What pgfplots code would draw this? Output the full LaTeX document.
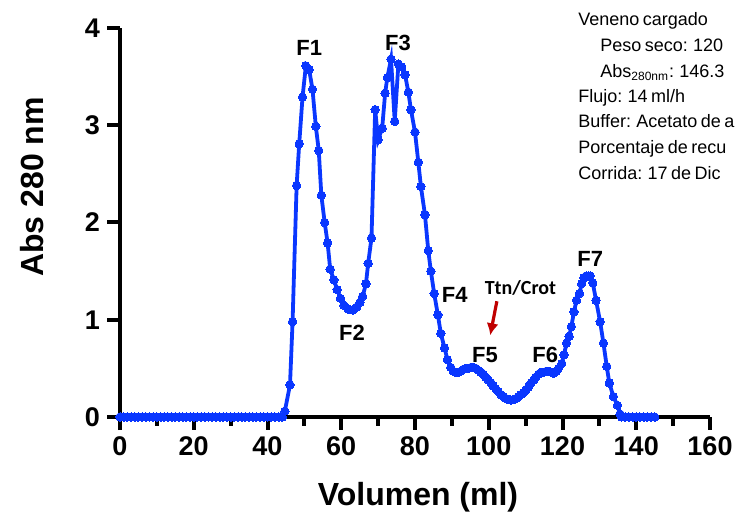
\documentclass[border=0pt]{standalone}
\usepackage{pgfplots}
\pgfplotsset{compat=1.18}
\usetikzlibrary{arrows.meta}
\usepackage{fontspec}
\setmainfont{Liberation Sans}
\newfontfamily\calib{Carlito}
\newfontfamily\notefont[WordSpace=0.7]{Liberation Sans}
\definecolor{trace}{RGB}{10,55,255}
\definecolor{arrowred}{RGB}{192,0,0}

\pgfplotstableread{
vol abs
0 0
1 0
2 0
3 0
4 0
5 0
6 0
7 0
8 0
9 0
10 0
11 0
12 0
13 0
14 0
15 0
16 0
17 0
18 0
19 0
20 0
21 0
22 0
23 0
24 0
25 0
26 0
27 0
28 0
29 0
30 0
31 0
32 0
33 0
34 0
35 0
36 0
37 0
38 0
39 0
40 0
41 0
42 0
43 0
44 0
44.7 0.06
46.1 0.33
46.8 0.98
47.9 2.38
48.6 2.81
49.5 3.29
50.4 3.61
51.3 3.57
52.2 3.37
53.1 2.99
53.9 2.74
54.6 2.28
55.5 2.00
56.3 1.79
57.0 1.52
58.0 1.41
58.9 1.31
59.8 1.22
60.7 1.15
61.9 1.11
63.1 1.10
64.2 1.13
65.1 1.18
65.8 1.24
66.7 1.37
67.3 1.58
68.2 1.84
69.2 3.16
70.0 2.85
71.1 2.97
71.9 3.33
72.5 3.49
73.5 3.68
74.5 3.04
75.5 3.63
76.4 3.60
77.3 3.52
78.2 3.34
78.9 3.16
80.0 2.93
80.9 2.62
81.6 2.37
82.7 2.08
83.6 1.71
84.3 1.50
85.2 1.27
86.2 1.05
87.0 0.86
88.0 0.71
88.8 0.59
89.7 0.51
90.4 0.47
91.0 0.46
91.7 0.46
92.4 0.47
93.1 0.49
93.8 0.50
94.5 0.50
95.2 0.51
95.8 0.51
96.5 0.50
97.2 0.48
97.9 0.46
98.5 0.44
99.2 0.41
99.9 0.38
100.6 0.35
101.2 0.32
101.9 0.29
102.6 0.26
103.3 0.23
104.0 0.21
104.7 0.19
105.3 0.18
106.0 0.175
106.7 0.18
107.4 0.19
108.1 0.21
108.7 0.23
109.4 0.25
110.1 0.28
110.8 0.31
111.5 0.35
112.2 0.38
112.8 0.41
113.5 0.44
114.2 0.46
114.9 0.46
115.6 0.47
116.3 0.47
117.0 0.46
117.6 0.45
118.3 0.47
118.9 0.50
119.8 0.55
120.4 0.64
121.1 0.76
121.8 0.83
122.4 0.93
123.1 1.08
123.8 1.20
124.6 1.27
125.2 1.37
125.8 1.43
126.4 1.45
127.0 1.45
127.5 1.45
128.2 1.38
129.1 1.20
130.2 0.98
131.1 0.76
132.0 0.52
132.7 0.35
133.8 0.21
134.9 0.12
135.6 0.03
136 0
137 0
138 0
139 0
140 0
141 0
142 0
143 0
144 0
145 0
}\chromatogram

\begin{document}
\begin{tikzpicture}
\begin{axis}[
    at={(60pt,53pt)}, anchor=origin,
    scale only axis, width=295pt, height=194.5pt,
    xmin=0, xmax=160, ymin=0, ymax=4,
    axis lines=left,
    axis line style={line width=2pt, -},
    xtick={0,20,...,160}, ytick={0,1,2,3,4},
    minor x tick num=1,
    tick align=outside,
    major tick length=6.5pt, minor tick length=4.5pt,
    tick style={line width=2pt, black},
    minor tick style={line width=2pt, black},
    tick label style={font=\fontsize{13.5}{15}\selectfont\bfseries},
    /pgf/number format/assume math mode=true,
    clip=false,
]
\draw[line width=2pt] (axis cs:-3.5,0) -- (axis cs:0,0);
\draw[line width=2pt] (axis cs:0,-0.135) -- (axis cs:0,0);

\addplot[trace, line width=1.9pt, mark=*, mark size=2.1pt,
    mark options={fill=trace, draw=trace, line width=0pt}] table[x=vol, y=abs] {\chromatogram};

\begin{scope}[font=\fontsize{11}{12}\selectfont\bfseries]
\node at (axis cs:51.3,3.79) {F1};
\node at (axis cs:62.9,0.87) {F2};
\node at (axis cs:75.4,3.85) {F3};
\node at (axis cs:90.8,1.25) {F4};
\node at (axis cs:99.0,0.64) {F5};
\node at (axis cs:115.3,0.64) {F6};
\node at (axis cs:127.5,1.63) {F7};
\end{scope}
\node[font=\calib\fontsize{10}{12}\selectfont\bfseries] at (axis cs:108.6,1.33) {Ttn/Crot};
\draw[arrowred, line width=1.6pt, -{Latex[length=6pt,width=6pt]}]
    (axis cs:102.2,1.19) -- (axis cs:100.4,0.84);
\end{axis}

\node[font=\fontsize{16}{18}\selectfont\bfseries] at (209pt,13pt) {Volumen (ml)};
\node[font=\fontsize{16}{18}\selectfont\bfseries, rotate=90] at (16pt,168pt) {Abs 280 nm};

\begin{scope}
\clip (0,0) rectangle (367.5pt,261.5pt);
\begin{scope}[every node/.style={anchor=base west, inner sep=0pt, font=\notefont\fontsize{9}{11}\selectfont}]
\node at (289pt,248.5pt) {Veneno cargado};
\node at (300pt,235.6pt) {Peso seco: 120};
\node at (300pt,222.5pt) {Abs\textsubscript{280nm}: 146.3};
\node at (289pt,210pt) {Flujo: 14 ml/h};
\node at (289pt,197.5pt) {Buffer: Acetato de a};
\node at (289pt,184.6pt) {Porcentaje de recu};
\node at (289pt,171.6pt) {Corrida: 17 de Dic};
\end{scope}
\end{scope}
\pgfresetboundingbox
\useasboundingbox (0,0) rectangle (367.5pt,261.5pt);
\end{tikzpicture}
\end{document}
